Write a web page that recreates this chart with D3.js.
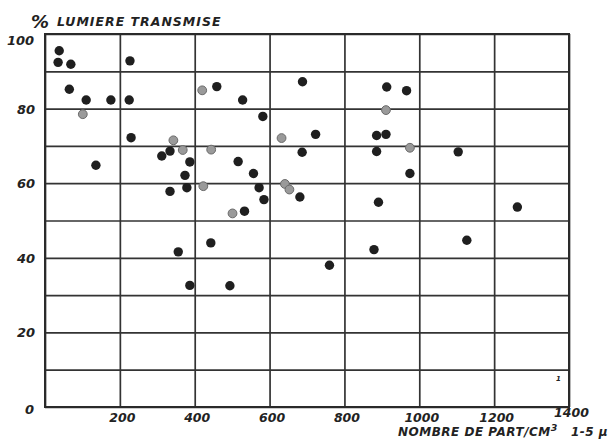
<!DOCTYPE html>
<html>
<head>
    <meta charset="UTF-8">
    <script src="https://d3js.org/d3.v7.min.js"></script>
    <style>
        body { margin: 0; background: #fff; }
        text { font-family: "DejaVu Sans", sans-serif; font-style: italic; font-weight: bold; fill: #222; }
    </style>
</head>
<body>
<svg width="611" height="439"></svg>
<script>
    // points : [nombre de part/cm3, % lumiere transmise]
    var darkPoints = [
        [38, 95.5], [35, 92.4], [69, 91.9], [65, 85.2], [110, 82.3], [176, 82.3],
        [225, 82.3], [227, 92.8], [230, 72.2], [136, 64.8], [334, 68.6], [312, 67.3],
        [387, 65.7], [374, 62.1], [379, 58.8], [334, 57.8], [459, 85.9], [528, 82.3],
        [582, 77.9], [516, 65.8], [557, 62.6], [572, 58.8], [585, 55.6], [533, 52.5],
        [681, 56.3], [688, 87.2], [687, 68.3], [913, 85.8], [966, 84.8], [723, 73.1],
        [886, 72.8], [911, 73.1], [886, 68.5], [975, 62.6], [1104, 68.4], [891, 54.9],
        [1262, 53.6], [356, 41.6], [443, 44], [387, 32.6], [494, 32.5], [760, 38],
        [879, 42.2], [1127, 44.7]
    ];
    var greyPoints = [
        [101, 78.5], [343, 71.5], [368, 68.9], [423, 59.2], [444, 69], [420, 84.9],
        [501, 51.9], [632, 72.1], [641, 59.8], [653, 58.3], [911, 79.6], [975, 69.5]
    ];
    var xTicks = [0, 200, 400, 600, 800, 1000, 1200, 1400];
    var yTicks = [0, 10, 20, 30, 40, 50, 60, 70, 80, 90, 100];
    var yLabels = [20, 40, 60, 80];

    var svg = d3.select("svg");
    var marge = {left: 45, right: 569, top: 34, bottom: 407};

    var xScale = d3.scaleLinear().domain([0, 1400]).range([marge.left, marge.right]);
    var yScale = d3.scaleLinear().domain([0, 100]).range([marge.bottom, marge.top]);

    // quadrillage vertical (axe x)
    var xAxis = d3.axisBottom(xScale)
        .tickValues(xTicks)
        .tickSize(-(marge.bottom - marge.top))
        .tickFormat(function(d){ return d === 0 ? "" : d; });
    var gx = svg.append("g")
        .attr("transform", "translate(0," + marge.bottom + ")")
        .call(xAxis);
    gx.select(".domain").remove();
    gx.selectAll("line").attr("stroke", "#333").attr("stroke-width", 1.7);
    gx.selectAll("text")
        .attr("dy", null)
        .attr("y", function(d){ return d === 1400 ? 10 : 15; })
        .attr("x", 2)
        .attr("font-size", 12.5);

    // quadrillage horizontal (axe y)
    var yAxis = d3.axisLeft(yScale)
        .tickValues(yTicks)
        .tickSize(-(marge.right - marge.left))
        .tickFormat(function(d){ return yLabels.indexOf(d) >= 0 ? d : ""; });
    var gy = svg.append("g")
        .attr("transform", "translate(" + marge.left + ",0)")
        .call(yAxis);
    gy.select(".domain").remove();
    gy.selectAll("line").attr("stroke", "#333").attr("stroke-width", 1.7);
    gy.selectAll("text")
        .attr("x", -10)
        .attr("dy", "0.35em")
        .attr("font-size", 13);

    // cadre
    svg.append("rect")
        .attr("x", marge.left).attr("y", marge.top)
        .attr("width", marge.right - marge.left).attr("height", marge.bottom - marge.top)
        .attr("fill", "none").attr("stroke", "#2a2a2a").attr("stroke-width", 2);

    // 0 et 100
    svg.append("text").attr("x", 34).attr("y", 414).attr("text-anchor", "end")
        .attr("font-size", 13).text("0");
    svg.append("text").attr("x", 7).attr("y", 45)
        .attr("font-size", 13).text("100");

    // titres
    svg.append("text").attr("x", 31).attr("y", 28)
        .attr("font-size", 18).attr("font-weight", "normal").text("%");
    svg.append("text").attr("x", 57).attr("y", 26)
        .attr("font-size", 12.5).attr("letter-spacing", 1).text("LUMIERE TRANSMISE");
    svg.append("text").attr("x", 398).attr("y", 436)
        .attr("font-size", 12).attr("letter-spacing", 0.5)
        .text("NOMBRE DE PART/CM")
        .append("tspan").attr("dy", -5).attr("font-size", 9.5).text("3");
    svg.append("text").attr("x", 571).attr("y", 436)
        .attr("font-size", 12).attr("letter-spacing", 0.5).text("1-5 µ");

    svg.append("text").attr("x", 556).attr("y", 381)
        .attr("font-size", 7).attr("font-weight", "normal").attr("fill", "#777").text("1");

    // points
    svg.append("g").selectAll("circle")
        .data(greyPoints)
        .enter()
        .append("circle")
        .attr("cx", function(d){ return xScale(d[0]); })
        .attr("cy", function(d){ return yScale(d[1]); })
        .attr("r", 4.4)
        .attr("fill", "#9a9a9a")
        .attr("stroke", "#6a6a6a")
        .attr("stroke-width", 1);

    svg.append("g").selectAll("circle")
        .data(darkPoints)
        .enter()
        .append("circle")
        .attr("cx", function(d){ return xScale(d[0]); })
        .attr("cy", function(d){ return yScale(d[1]); })
        .attr("r", 4.7)
        .attr("fill", "#1f1f1f");
</script>
</body>
</html>
